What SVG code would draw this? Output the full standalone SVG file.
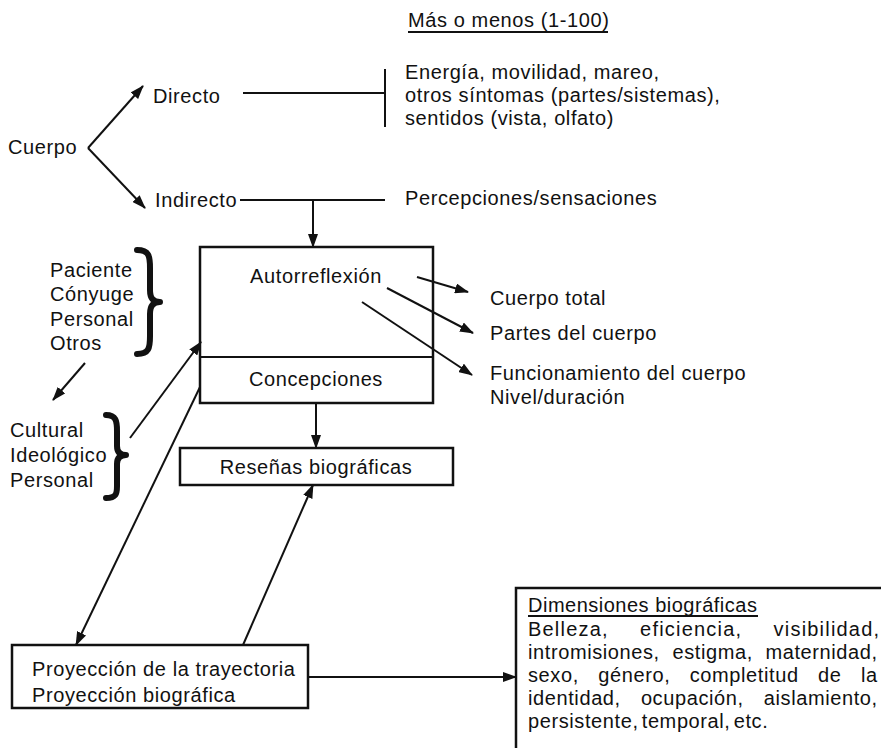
<svg xmlns="http://www.w3.org/2000/svg" width="881" height="748" viewBox="0 0 881 748">
<style>
text{font-family:"Liberation Sans",Arial,sans-serif;font-size:20px;fill:#111;letter-spacing:0.6px}
.ln{stroke:#111;stroke-width:2;fill:none}
.box{stroke:#111;stroke-width:2.5;fill:#fff}
.arr{stroke:#111;stroke-width:2;fill:none;marker-end:url(#ah)}
.brace{stroke:#111;stroke-width:6;fill:none;stroke-linecap:round;stroke-linejoin:round}
.c{text-anchor:middle}
</style>
<defs>
<marker id="ah" viewBox="0 0 14 10" refX="13" refY="5" markerWidth="14" markerHeight="10" orient="auto" markerUnits="userSpaceOnUse">
<path d="M0,0 L14,5 L0,10 z" fill="#111"/>
</marker>
</defs>
<rect width="881" height="748" fill="#fff"/>

<g id="heading">
<text x="408" y="27">Más o menos (1-100)</text>
<line class="ln" x1="408" y1="32" x2="608" y2="32" stroke-width="1.3"/>
</g>

<g id="cuerpo"><text x="8" y="154">Cuerpo</text></g>
<g id="directo"><text x="153" y="103">Directo</text></g>
<g id="indirecto"><text x="155" y="207">Indirecto</text></g>
<g id="sintomas">
<text x="405" y="79">Energía, movilidad, mareo,</text>
<text x="405" y="102">otros síntomas (partes/sistemas),</text>
<text x="405" y="125">sentidos (vista, olfato)</text>
</g>
<g id="percepciones"><text x="405" y="205">Percepciones/sensaciones</text></g>

<g id="agentes">
<text x="50" y="277">Paciente</text>
<text x="50" y="301">Cónyuge</text>
<text x="50" y="326">Personal</text>
<text x="50" y="350">Otros</text>
<path class="brace" d="M137,250 C149,250 150,256 150,268 L150,290 C150,298 153,302 160,302 C153,302 150,306 150,314 L150,336 C150,348 149,354 137,354"/>
</g>

<g id="contextos">
<text x="10" y="437">Cultural</text>
<text x="10" y="462">Ideológico</text>
<text x="10" y="487">Personal</text>
<path class="brace" d="M106,415 C116,415 117,421 117,431 L117,446 C117,452 120,455 126,455 C120,455 117,458 117,464 L117,486 C117,494 116,498 106,498"/>
</g>

<g id="autorreflexion">
<rect class="box" x="200" y="247" width="233" height="156"/>
<line class="ln" x1="200" y1="357" x2="433" y2="357" stroke-width="2.5"/>
<text class="c" x="316" y="283">Autorreflexión</text>
<text class="c" x="316" y="386">Concepciones</text>
</g>

<g id="cuerpo-total"><text x="490" y="305">Cuerpo total</text></g>
<g id="partes"><text x="490" y="340">Partes del cuerpo</text></g>
<g id="funcionamiento">
<text x="490" y="380">Funcionamiento del cuerpo</text>
<text x="490" y="404">Nivel/duración</text>
</g>

<g id="resenas">
<rect class="box" x="180" y="448" width="273" height="37"/>
<text class="c" x="316" y="474">Reseñas biográficas</text>
</g>

<g id="proyeccion">
<rect class="box" x="12" y="645" width="296" height="63"/>
<text x="32" y="676">Proyección de la trayectoria</text>
<text x="32" y="702">Proyección biográfica</text>
</g>

<g id="dimensiones">
<rect class="box" x="516" y="588" width="400" height="200"/>
<text x="528" y="612" style="letter-spacing:0.5px">Dimensiones biográficas</text>
<line class="ln" x1="528" y1="616" x2="758" y2="616" stroke-width="1.3"/>
<text x="528" y="636" style="letter-spacing:1.2px;word-spacing:24.6px">Belleza, eficiencia, visibilidad,</text>
<text x="528" y="659" style="word-spacing:6.5px">intromisiones, estigma, maternidad,</text>
<text x="528" y="682" style="word-spacing:13.3px">sexo, género, completitud de la</text>
<text x="528" y="705" style="word-spacing:14px">identidad, ocupación, aislamiento,</text>
<text x="528" y="728" style="word-spacing:-3px">persistente, temporal, etc.</text>
</g>

<g id="connectors">
<line class="arr" x1="88" y1="148" x2="143" y2="86"/>
<line class="arr" x1="88" y1="148" x2="145" y2="208"/>
<line class="ln" x1="243" y1="93" x2="385" y2="93"/>
<line class="ln" x1="385" y1="69" x2="385" y2="127" stroke-width="2.5"/>
<line class="ln" x1="240" y1="200" x2="385" y2="200"/>
<line class="arr" x1="313" y1="200" x2="313" y2="247"/>
<line class="arr" x1="417" y1="277" x2="468" y2="292"/>
<line class="arr" x1="387" y1="288" x2="473" y2="333"/>
<line class="arr" x1="362" y1="302" x2="472" y2="375"/>
<line class="arr" x1="85" y1="363" x2="53" y2="400"/>
<line class="arr" x1="130" y1="438" x2="201" y2="342"/>
<line class="arr" x1="200" y1="387" x2="76" y2="645"/>
<line class="arr" x1="316" y1="403" x2="316" y2="448"/>
<line class="arr" x1="243" y1="645" x2="313" y2="485"/>
<line class="arr" x1="308" y1="677" x2="516" y2="677"/>
</g>
</svg>
